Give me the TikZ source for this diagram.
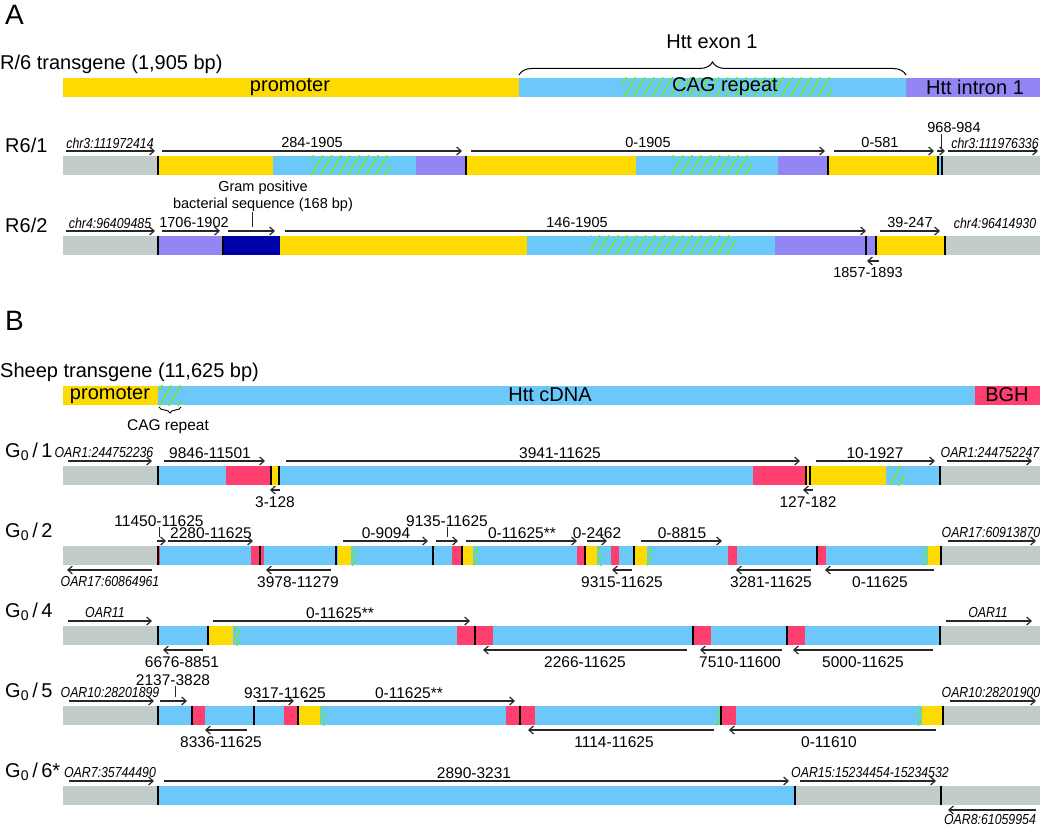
\documentclass[tikz,border=0pt]{standalone}
\usepackage{fontspec}
\setmainfont{Liberation Sans}
\newfontfamily\locfont[FakeStretch=0.85]{Liberation Sans}
\usetikzlibrary{arrows.meta,patterns.meta,decorations.pathreplacing}
\definecolor{gnm}{RGB}{194,204,203}
\definecolor{prom}{RGB}{253,219,0}
\definecolor{htt}{RGB}{109,200,250}
\definecolor{intr}{RGB}{148,133,245}
\definecolor{bgh}{RGB}{254,63,111}
\definecolor{bact}{RGB}{0,0,168}
\definecolor{cag}{RGB}{110,240,0}
\definecolor{arr}{RGB}{40,40,40}
\begin{document}
\begin{tikzpicture}[x=1pt,y=-1pt,
  panel/.style={font=\fontsize{28}{30}\selectfont, inner sep=0pt, anchor=west},
  title/.style={font=\fontsize{20}{22}\selectfont, inner sep=0pt},
  rowname/.style={font=\fontsize{20}{22}\selectfont, inner sep=0pt, anchor=west},
  lbl/.style={font=\fontsize{14.5}{16}\selectfont, inner sep=0pt},
  blbl/.style={font=\fontsize{15.5}{17}\selectfont, inner sep=0pt},
  loc/.style={font=\locfont\fontsize{14.5}{16}\selectfont\itshape, inner sep=0pt},
  fwd/.style={draw=arr, line width=1.2pt, -{Straight Barb[length=4.5pt,width=8pt]}},
  bwd/.style={draw=arr, line width=1.2pt, {Straight Barb[length=4.5pt,width=8pt]}-},
  tick/.style={draw=arr, line width=1pt},
  cut/.style={draw=black, line width=1.3pt},
  cagfill/.style={pattern={Lines[angle=60,distance=8pt,line width=1.2pt]}, pattern color=cag},
  cagbit/.style={pattern={Lines[angle=60,distance=5pt,line width=1.2pt]}, pattern color=cag},
]
\useasboundingbox (0,0) rectangle (1050,826);

% A: R/6 transgene
\node[panel] (pa) at (5,15) {A};
\node[title, anchor=west] (r6t) at (0,64) {R/6 transgene (1,905 bp)};
\node[title] (exon) at (712,42) {Htt exon 1};
\draw[line width=1pt, decorate, decoration={brace, amplitude=13pt}] (519,75) -- (906,75);
\foreach \a/\b/\c in {63/519/prom,519/906/htt,906/1040/intr}
  \fill[\c] (\a,78) rectangle (\b,97);
\fill[cagfill] (622,78) rectangle (832,97);
\node[title] (apr) at (290,87) {promoter};
\node[title] (acag) at (725,87) {CAG repeat};
\node[title] (aint) at (975,87) {Htt intron 1};

% R6/1
\node[rowname] (r61) at (5,145) {R6/1};
\foreach \a/\b/\c in {63/158/gnm,158/273/prom,273/416/htt,416/466/intr,466/636/prom,636/778/htt,778/828/intr,828/938/prom,938/942/htt,942/1040/gnm}
  \fill[\c] (\a,156) rectangle (\b,175);
\fill[cagfill] (311,156) rectangle (390,175);
\fill[cagfill] (672,156) rectangle (752,175);
\foreach \x in {158,466,828,938,942}
  \draw[cut] (\x,156) -- (\x,175);
\draw[fwd] (66,151) -- (155,151);
\node[loc] (r61l) at (110,143) {chr3:111972414};
\draw[fwd] (162,151) -- (462,151);
\node[lbl] (r61a) at (312,143) {284-1905};
\draw[fwd] (471,151) -- (825,151);
\node[lbl] (r61b) at (648,143) {0-1905};
\draw[fwd] (834,151) -- (934,151);
\node[lbl] (r61c) at (880,143) {0-581};
\node[lbl] (r61d) at (954,128) {968-984};
\draw[tick] (941,134) -- (941,148);
\draw[fwd] (937,151) -- (945,151);
\draw[fwd] (948,151) -- (1038,151);
\node[loc] (r61r) at (995,143) {chr3:111976336};

% R6/2
\node[rowname] (r62) at (5,225) {R6/2};
\foreach \a/\b/\c in {63/158/gnm,158/223/intr,223/280/bact,280/527/prom,527/775/htt,775/876/intr,876/945/prom,945/1040/gnm}
  \fill[\c] (\a,236) rectangle (\b,255);
\fill[cagfill] (590,236) rectangle (735,255);
\foreach \x in {158,223,866,876,945}
  \draw[cut] (\x,236) -- (\x,255);
\node[lbl] (gram1) at (263,188) {Gram positive};
\node[lbl] (gram2) at (263,205) {bacterial sequence (168 bp)};
\draw[tick] (252,212) -- (252,227);
\draw[fwd] (66,231) -- (155,231);
\node[loc] (r62l) at (110,223) {chr4:96409485};
\draw[fwd] (162,231) -- (220,231);
\node[lbl] (r62a) at (194,223) {1706-1902};
\draw[fwd] (228,231) -- (275,231);
\draw[fwd] (285,231) -- (866,231);
\node[lbl] (r62b) at (577,223) {146-1905};
\draw[fwd] (880,231) -- (940,231);
\node[lbl] (r62c) at (910,223) {39-247};
\node[loc] (r62r) at (995,223) {chr4:96414930};
\draw[bwd] (867,261) -- (879,261);
\node[lbl] (r62d) at (868,273) {1857-1893};

% B: sheep transgene
\node[panel] (pb) at (5,321) {B};
\node[title, anchor=west] (sht) at (0,372) {Sheep transgene (11,625 bp)};
\foreach \a/\b/\c in {63/158/prom,158/975/htt,975/1040/bgh}
  \fill[\c] (\a,386) rectangle (\b,405);
\fill[cagfill] (159,386) rectangle (181,405);
\node[title] (bpr) at (110,395) {promoter};
\node[title] (bcd) at (550,395) {Htt cDNA};
\node[title] (bbgh) at (1007,395) {BGH};
\draw[line width=0.9pt, decorate, decoration={brace, amplitude=6pt}] (181,407) -- (159,407);
\node[blbl] (bcag) at (168,427) {CAG repeat};

% G0/1
\node[rowname] (g1) at (5,452) {G\textsubscript{0}\,/\,1};
\foreach \a/\b/\c in {63/158/gnm,158/226/htt,226/271/bgh,271/279/prom,279/753/htt,753/806/bgh,806/886/prom,886/940/htt,940/1040/gnm}
  \fill[\c] (\a,466) rectangle (\b,485);
\fill[cagfill] (890,466) rectangle (904,485);
\foreach \x in {158,271,279,806,810,940}
  \draw[cut] (\x,466) -- (\x,485);
\draw[fwd] (68,461) -- (152,461);
\node[loc] (g1l) at (104,453) {OAR1:244752236};
\draw[fwd] (164,461) -- (265,461);
\node[blbl] (g1a) at (210,453) {9846-11501};
\draw[fwd] (286,461) -- (800,461);
\node[blbl] (g1b) at (560,453) {3941-11625};
\draw[fwd] (816,461) -- (935,461);
\node[blbl] (g1c) at (875,453) {10-1927};
\draw[fwd] (947,461) -- (1032,461);
\node[loc] (g1r) at (990,453) {OAR1:244752247};
\draw[bwd] (270,490) -- (280,490);
\node[blbl] (g1d) at (275,502) {3-128};
\draw[bwd] (803,490) -- (813,490);
\node[blbl] (g1e) at (808,502) {127-182};

% G0/2
\node[rowname] (g2) at (5,532) {G\textsubscript{0}\,/\,2};
\foreach \a/\b/\c in {63/158/gnm,158/160/bgh,160/251/htt,251/264/bgh,264/338/htt,338/351/prom,351/452/htt,452/462/bgh,462/473/prom,473/577/htt,577/585/bgh,585/597/prom,597/611/htt,611/619/bgh,619/635/htt,635/647/prom,647/728/htt,728/737/bgh,737/817/htt,817/826/bgh,826/928/htt,928/941/prom,941/1040/gnm}
  \fill[\c] (\a,546) rectangle (\b,565);
\foreach \a/\b in {351/356,473/478,597/602,647/652,923/928}
  \fill[cagbit] (\a,546) rectangle (\b,565);
\foreach \x in {158,260,336,433,462,585,634,817,941}
  \draw[cut] (\x,546) -- (\x,565);
\node[blbl] (g2u1) at (159,521) {11450-11625};
\draw[tick] (159,527) -- (159,537);
\draw[fwd] (157,541) -- (166,541);
\node[blbl] (g2u2) at (447,521) {9135-11625};
\draw[tick] (447,527) -- (447,537);
\draw[fwd] (436,541) -- (458,541);
\draw[fwd] (168,541) -- (253,541);
\node[blbl] (g2a) at (211,533) {2280-11625};
\draw[fwd] (343,541) -- (428,541);
\node[blbl] (g2b) at (386,533) {0-9094};
\draw[fwd] (466,541) -- (577,541);
\node[blbl] (g2c) at (522,533) {0-11625**};
\draw[fwd] (587,541) -- (607,541);
\node[blbl] (g2d) at (597,533) {0-2462};
\draw[fwd] (641,541) -- (722,541);
\node[blbl] (g2e) at (682,533) {0-8815};
\draw[fwd] (948,541) -- (1036,541);
\node[loc] (g2r) at (991,533) {OAR17:60913870};
\draw[bwd] (67,570) -- (152,570);
\node[loc] (g2l) at (110,582) {OAR17:60864961};
\draw[bwd] (266,570) -- (331,570);
\node[blbl] (g2f) at (298,582) {3978-11279};
\draw[bwd] (612,570) -- (632,570);
\node[blbl] (g2g) at (622,582) {9315-11625};
\draw[bwd] (736,570) -- (811,570);
\node[blbl] (g2h) at (771,582) {3281-11625};
\draw[bwd] (825,570) -- (934,570);
\node[blbl] (g2i) at (880,582) {0-11625};

% G0/4
\node[rowname] (g4) at (5,612) {G\textsubscript{0}\,/\,4};
\foreach \a/\b/\c in {63/158/gnm,158/208/htt,208/233/prom,233/457/htt,457/493/bgh,493/693/htt,693/711/bgh,711/787/htt,787/805/bgh,805/940/htt,940/1040/gnm}
  \fill[\c] (\a,626) rectangle (\b,645);
\fill[cagbit] (234,626) rectangle (240,645);
\foreach \x in {158,208,475,693,787,940}
  \draw[cut] (\x,626) -- (\x,645);
\draw[fwd] (68,621) -- (152,621);
\node[loc] (g4l) at (105,613) {OAR11};
\draw[fwd] (213,621) -- (470,621);
\node[blbl] (g4a) at (340,613) {0-11625**};
\draw[fwd] (946,621) -- (1032,621);
\node[loc] (g4r) at (988,613) {OAR11};
\draw[bwd] (163,650) -- (203,650);
\node[blbl] (g4b) at (182,662) {6676-8851};
\draw[bwd] (483,650) -- (687,650);
\node[blbl] (g4c) at (585,662) {2266-11625};
\draw[bwd] (700,650) -- (782,650);
\node[blbl] (g4d) at (740,662) {7510-11600};
\draw[bwd] (793,650) -- (933,650);
\node[blbl] (g4e) at (863,662) {5000-11625};

% G0/5
\node[rowname] (g5) at (5,692) {G\textsubscript{0}\,/\,5};
\foreach \a/\b/\c in {63/158/gnm,158/192/htt,192/205/bgh,205/284/htt,284/298/bgh,298/320/prom,320/506/htt,506/535/bgh,535/721/htt,721/736/bgh,736/922/htt,922/943/prom,943/1040/gnm}
  \fill[\c] (\a,706) rectangle (\b,725);
\foreach \a/\b in {320/325,716/721,917/922}
  \fill[cagbit] (\a,706) rectangle (\b,725);
\foreach \x in {158,192,254,298,520,721,943}
  \draw[cut] (\x,706) -- (\x,725);
\node[blbl] (g5u) at (173,680) {2137-3828};
\draw[tick] (175,686) -- (175,697);
\draw[fwd] (69,701) -- (154,701);
\node[loc] (g5l) at (110,693) {OAR10:28201899};
\draw[fwd] (160,701) -- (187,701);
\draw[fwd] (257,701) -- (294,701);
\node[blbl] (g5a) at (285,693) {9317-11625};
\draw[fwd] (304,701) -- (515,701);
\node[blbl] (g5b) at (409,693) {0-11625**};
\draw[fwd] (950,701) -- (1036,701);
\node[loc] (g5r) at (991,693) {OAR10:28201900};
\draw[bwd] (205,730) -- (247,730);
\node[blbl] (g5c) at (221,742) {8336-11625};
\draw[bwd] (528,730) -- (714,730);
\node[blbl] (g5d) at (614,742) {1114-11625};
\draw[bwd] (729,730) -- (936,730);
\node[blbl] (g5e) at (829,742) {0-11610};

% G0/6*
\node[rowname] (g6) at (5,772) {G\textsubscript{0}\,/\,6*};
\foreach \a/\b/\c in {63/158/gnm,158/795/htt,795/1040/gnm}
  \fill[\c] (\a,786) rectangle (\b,805);
\foreach \x in {158,795,941}
  \draw[cut] (\x,786) -- (\x,805);
\draw[fwd] (69,781) -- (154,781);
\node[loc] (g6l) at (110,773) {OAR7:35744490};
\draw[fwd] (164,781) -- (789,781);
\node[blbl] (g6a) at (474,773) {2890-3231};
\draw[fwd] (800,781) -- (936,781);
\node[loc] (g6m) at (870,773) {OAR15:15234454-15234532};
\draw[bwd] (948,810) -- (1036,810);
\node[loc] (g6r) at (990,820) {OAR8:61059954};
\end{tikzpicture}
\end{document}
